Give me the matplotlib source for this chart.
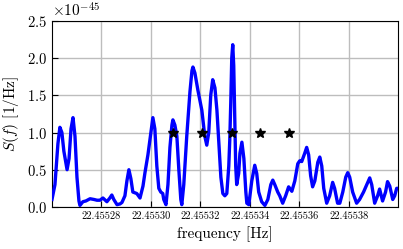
import matplotlib
matplotlib.use("Agg")
import matplotlib.pyplot as plt
import numpy as np

plt.rcParams['font.family'] = ['cmr10', 'DejaVu Serif']
plt.rcParams['mathtext.fontset'] = 'cm'
plt.rcParams['axes.formatter.use_mathtext'] = True
plt.rcParams['axes.unicode_minus'] = False

# frequency = base + offset (offset in micro-Hz)
f_base = 22.45526
f_off = [0.0, 1.2, 2.4, 3.2, 4.0, 4.8, 6.1, 6.9, 7.7, 8.5, 9.3, 10.1, 10.9, 11.3,
         12.5, 13.7, 15.4, 17.0, 18.2, 19.4, 20.6, 22.2, 23.4, 24.2, 25.0, 26.3,
         27.5, 28.3, 29.5, 30.3, 31.1, 31.9, 32.7, 34.3, 35.6, 36.8, 37.6, 38.8,
         40.0, 40.8, 41.6, 42.4, 43.2, 44.0, 44.8, 45.2, 46.1, 46.9, 47.7, 48.5,
         48.9, 49.7, 50.5, 51.3, 52.1, 52.5, 53.3, 54.5, 55.8, 56.6, 57.0, 57.8,
         59.0, 60.6, 61.8, 62.6, 63.4, 64.2, 65.0, 65.9, 66.7, 67.5, 68.3, 69.1,
         69.9, 70.7, 71.5, 71.9, 72.3, 72.7, 73.1, 73.5, 73.9, 74.3, 74.7, 75.5,
         76.0, 76.8, 77.6, 78.4, 78.8, 79.6, 80.8, 82.0, 82.8, 83.6, 84.8, 86.1,
         87.3, 88.5, 89.3, 90.1, 91.3, 92.1, 93.3, 94.5, 95.7, 97.0, 98.2, 99.4,
         100.2, 101.0, 102.2, 103.0, 103.8, 104.6, 105.4, 106.3, 107.5, 108.3,
         109.1, 109.9, 111.1, 112.3, 113.5, 114.3, 115.5, 116.4, 117.6, 118.8,
         119.6, 120.4, 121.6, 123.2, 124.4, 126.0, 127.3, 128.5, 129.3, 130.5,
         131.7, 132.5, 133.7, 134.9, 135.7, 136.6, 137.8, 138.6, 139.4, 139.8]
# S(f) in units of 1e-45 1/Hz
s_val = [0.10, 0.30, 0.85, 1.07, 1.00, 0.75, 0.50, 0.65, 1.05, 1.20, 0.95, 0.40, 0.08, 0.02,
         0.07, 0.08, 0.11, 0.10, 0.09, 0.09, 0.12, 0.07, 0.12, 0.16, 0.10, 0.03,
         0.04, 0.06, 0.15, 0.35, 0.50, 0.38, 0.20, 0.18, 0.12, 0.28, 0.46, 0.70,
         1.00, 1.20, 1.05, 0.55, 0.25, 0.20, 0.18, 0.10, 0.03, 0.30, 0.80, 1.10,
         1.17, 1.10, 0.95, 0.50, 0.10, 0.03, 0.30, 0.95, 1.55, 1.83, 1.88, 1.80,
         1.57, 1.30, 0.95, 0.83, 1.00, 1.50, 1.71, 1.60, 1.30, 0.85, 0.40, 0.18,
         0.15, 0.18, 0.55, 0.90, 1.40, 2.00, 2.18, 1.90, 1.20, 0.55, 0.30, 0.45,
         0.72, 0.87, 0.65, 0.20, 0.05, 0.03, 0.35, 0.56, 0.45, 0.20, 0.07, 0.02,
         0.10, 0.30, 0.36, 0.30, 0.20, 0.15, 0.05, 0.15, 0.27, 0.21, 0.35, 0.58,
         0.62, 0.61, 0.72, 0.80, 0.70, 0.42, 0.27, 0.35, 0.60, 0.67,
         0.55, 0.25, 0.05, 0.15, 0.33, 0.25, 0.05, 0.05, 0.20, 0.40,
         0.46, 0.40, 0.20, 0.05, 0.10, 0.20, 0.30, 0.39, 0.30, 0.05,
         0.15, 0.24, 0.08, 0.20, 0.34, 0.28, 0.10, 0.15, 0.25, 0.25]

star_off = [48.9, 60.6, 72.7, 84.0, 95.7]
star_val = [1.0, 1.0, 1.0, 1.0, 1.0]

xticks = [22.45528, 22.45530, 22.45532, 22.45534, 22.45536, 22.45538]
yticks = [0.0, 0.5, 1.0, 1.5, 2.0, 2.5]

freq = f_base + np.array(f_off) * 1e-6
S = np.array(s_val) * 1e-45
sf = f_base + np.array(star_off) * 1e-6
ss = np.array(star_val) * 1e-45

fig = plt.figure(figsize=(4.03, 2.49), dpi=100)
ax = fig.add_axes([0.129, 0.169, 0.859, 0.747])

ax.plot(freq, S, color="blue", lw=2.4, zorder=3)
ax.plot(sf, ss, "*", color="black", ms=7, zorder=4)

ax.set_xlim(f_base, f_base + 140e-6)
ax.set_ylim(0, 2.5e-45)
ax.set_xticks(xticks)
ax.set_xticklabels(["%.5f" % t for t in xticks], fontsize=7.5)
ax.set_yticks(np.array(yticks) * 1e-45)
ax.tick_params(axis='y', labelsize=10.5)
ax.tick_params(direction="in", length=4)
ax.yaxis.get_offset_text().set_fontsize(11)
ax.grid(True, color="#bdbdbd", lw=1)
ax.set_axisbelow(True)

ax.set_xlabel("frequency [Hz]", fontsize=11)
ax.set_ylabel("$S(f)$ [1/Hz]", fontsize=11)

fig.savefig("out.png", dpi=100)
